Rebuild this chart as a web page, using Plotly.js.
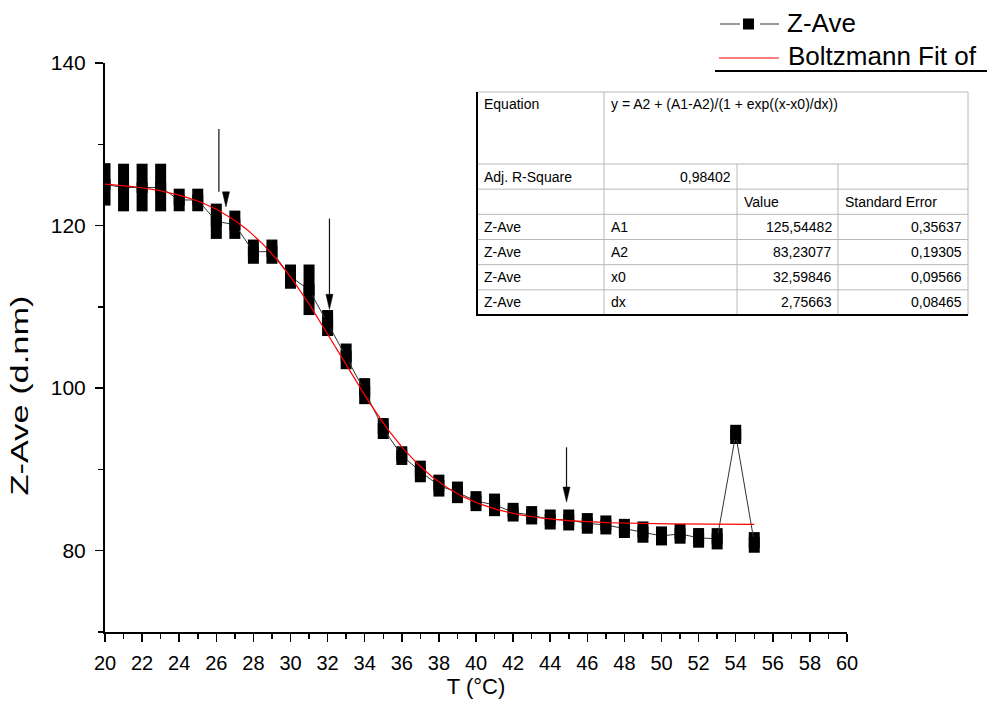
<!DOCTYPE html>
<html><head><meta charset="utf-8">
<script src="https://cdn.plot.ly/plotly-3.0.1.min.js"></script>
<style>html,body{margin:0;padding:0;background:#fff}#chart{width:987px;height:722px}</style>
</head><body><div id="chart"></div>
<script>
// ---------- data ----------
const temperature = [20,21,22,23,24,25,26,27,28,29,30,31,32,33,34,35,36,37,38,39,40,41,42,43,44,45,46,47,48,49,50,51,52,53,54,55];
const zAve = [125.07,124.68,124.68,124.68,123.15,123.15,120.53,120.10,116.79,116.79,113.72,112.10,108.01,103.91,99.63,95.03,91.70,89.75,88.01,87.18,86.10,85.64,84.74,84.36,83.84,83.78,83.36,83.17,82.74,82.29,81.82,82.07,81.58,81.47,94.31,81.02];
const zSpread = [2.61,2.93,2.93,2.93,1.39,1.39,2.17,1.74,1.49,1.49,1.49,3.11,1.60,1.58,1.60,1.29,1.15,1.33,1.35,1.33,1.23,1.39,1.15,1.13,1.23,1.29,1.27,1.17,1.18,1.31,1.17,1.21,1.21,1.31,1.18,1.27];

// Boltzmann fit parameters (from the table in the chart)
const fitA1 = 125.54482, fitA2 = 83.23077, fitX0 = 32.59846, fitDx = 2.75663;
const fitRange = [20, 55];
const fitEquation = 'y = A2 + (A1-A2)/(1 + exp((x-x0)/dx))';
const adjRSquare = '0,98402';
const paramNames = ['A1','A2','x0','dx'];
const paramValues = ['125,54482','83,23077','32,59846','2,75663'];
const paramErrors = ['0,35637','0,19305','0,09566','0,08465'];
const seriesName = 'Z-Ave';
const fitName = 'Boltzmann Fit of';
const xTitle = 'T (°C)';
const yTitle = 'Z-Ave (d.nm)';

// arrows (temperature of shaft, temperature of head, tail value, tip value)
const arrowShaftT = [26.14, 32.10, 44.88];
const arrowHeadT  = [26.52, 32.10, 44.88];
const arrowTail   = [131.87, 120.86, 92.72];
const arrowTip    = [122.30, 109.69, 85.98];

// ---------- fit curve ----------
const fitX = [], fitY = [];
for (let t = fitRange[0]; t <= fitRange[1] + 1e-9; t += 0.1) {
  fitX.push(t);
  fitY.push(fitA2 + (fitA1 - fitA2) / (1 + Math.exp((t - fitX0) / fitDx)));
}

// ---------- geometry helpers (pixel -> paper) ----------
const L = 105, R = 847, T = 63, B = 632;
const W = R - L, H = B - T;
const px = v => (v - L) / W;
const py = v => (B - v) / H;
const FONT = 'Liberation Sans, Arial, sans-serif';
const NARROW = 'Liberation Sans Narrow, Arial Narrow, Liberation Sans, Arial, sans-serif';

const shapes = [];
const annotations = [];

// arrows
const headLen = 1.85, headHalf = 0.19;
for (let i = 0; i < arrowShaftT.length; i++) {
  const base = arrowTip[i] + headLen;
  shapes.push({type:'line', xref:'x', yref:'y', x0:arrowShaftT[i], x1:arrowShaftT[i], y0:arrowTail[i], y1:base,
    line:{color:'#111', width:1.2}});
  const hx = arrowHeadT[i];
  shapes.push({type:'path', xref:'x', yref:'y',
    path:`M ${hx-headHalf},${base} L ${hx+headHalf},${base} L ${hx},${arrowTip[i]} Z`,
    fillcolor:'#000', line:{color:'#000', width:0.5}});
}

// table
const cols = [477, 604, 737, 838, 968];
const tTop = 92, tEq = 164, tBot = 315;
const rowH = (tBot - tEq) / 6;
const rows = [tEq]; for (let i = 1; i <= 6; i++) rows.push(tEq + i * rowH);
const grey = '#b8b8b8';
function hline(y, x0, x1, c, w){ shapes.push({type:'line', xref:'paper', yref:'paper', x0:px(x0), x1:px(x1), y0:py(y), y1:py(y), line:{color:c, width:w}}); }
function vline(x, y0, y1, c, w){ shapes.push({type:'line', xref:'paper', yref:'paper', x0:px(x), x1:px(x), y0:py(y0), y1:py(y1), line:{color:c, width:w}}); }
hline(tTop, cols[0], cols[4], grey, 1);
rows.slice(0, 6).forEach(y => hline(y, cols[0], cols[4], grey, 1));
vline(cols[1], tTop, tBot, grey, 1);
vline(cols[2], tEq, tBot, grey, 1);
vline(cols[3], tEq, tBot, grey, 1);
vline(cols[4], tTop, tBot, grey, 1);
vline(cols[0], tTop, tBot + 1, '#000', 2);
hline(tBot, cols[0] - 1, cols[4], '#000', 2);

const tfont = {family: FONT, size: 14, color: '#000'};
function cell(text, x, y, anchor, yanchor){
  annotations.push({xref:'paper', yref:'paper', x:px(x), y:py(y), text:text, showarrow:false,
    xanchor:anchor, yanchor:yanchor || 'middle', font:tfont});
}
cell('Equation', cols[0] + 5, tTop + 2, 'left', 'top');
cell(fitEquation, cols[1] + 5, tTop + 2, 'left', 'top');
const rc = i => rows[i] + rowH / 2;
cell('Adj. R-Square', cols[0] + 5, rc(0), 'left');
cell(adjRSquare, cols[2] - 4, rc(0), 'right');
cell('Value', cols[2] + 5, rc(1), 'left');
cell('Standard Error', cols[3] + 5, rc(1), 'left');
for (let i = 0; i < paramNames.length; i++) {
  cell(seriesName, cols[0] + 5, rc(2 + i), 'left');
  cell(paramNames[i], cols[1] + 5, rc(2 + i), 'left');
  cell(paramValues[i], cols[3] - 4, rc(2 + i), 'right');
  cell(paramErrors[i], cols[4] - 4, rc(2 + i), 'right');
}

// manual legend
const lfont = {family: FONT, size: 26, color: '#000'};
hline(24, 720, 740, '#555', 1.2);
hline(24, 760, 779, '#555', 1.2);
shapes.push({type:'rect', xref:'paper', yref:'paper', x0:px(743), x1:px(754), y0:py(18.5), y1:py(29.5), fillcolor:'#000', line:{width:0}});
annotations.push({xref:'paper', yref:'paper', x:px(785), y:py(23), text:seriesName, showarrow:false, xanchor:'left', yanchor:'middle', font:lfont});
hline(58, 719, 779, '#ff0000', 1.2);
annotations.push({xref:'paper', yref:'paper', x:px(786), y:py(56), text:fitName, showarrow:false, xanchor:'left', yanchor:'middle', font:lfont});
hline(71, 715, 987, '#000', 2);

// ---------- traces ----------
const traces = [
  {x: temperature, y: zAve, type:'scatter', mode:'lines+markers', name: seriesName,
   line:{color:'#333', width:1},
   marker:{symbol:'square', size:11, color:'#000', line:{width:0}},
   error_y:{type:'data', array:zSpread, visible:true, thickness:11, width:0, color:'#000'}},
  {x: fitX, y: fitY, type:'scatter', mode:'lines', name: fitName,
   line:{color:'#ff0000', width:1.2}}
];

const axisCommon = {showgrid:false, zeroline:false, showline:true, linecolor:'#000', linewidth:2,
  ticks:'outside', tickcolor:'#000', tickwidth:1.5, ticklen:8};

const layout = {
  width: 987, height: 722,
  margin: {l: L, r: 987 - R, t: T, b: 722 - B},
  paper_bgcolor:'#fff', plot_bgcolor:'#fff',
  showlegend: false,
  font: {family: FONT, color:'#000'},
  xaxis: Object.assign({}, axisCommon, {
    range:[20, 60], tick0:20, dtick:2, ticklabelstandoff: 4,
    tickfont:{family: NARROW, size: 20, color:'#000'},
    minor:{dtick:1, ticks:'outside', ticklen:5, tickwidth:1.5, tickcolor:'#000'},
    title:{text: xTitle, font:{family: FONT, size: 22, color:'#000'}, standoff: 0}
  }),
  yaxis: Object.assign({}, axisCommon, {
    range:[70, 140], tick0:0, dtick:20, ticklabelstandoff: 5,
    tickfont:{family: FONT, size: 21, color:'#000'},
    minor:{dtick:10, ticks:'outside', ticklen:5, tickwidth:1.5, tickcolor:'#000'},
    title:{text: yTitle, font:{family: FONT, size: 23, color:'#000'}, standoff: 16}
  }),
  shapes: shapes,
  annotations: annotations
};

Plotly.newPlot('chart', traces, layout, {displayModeBar:false, staticPlot:true}).then(gd => {
  // the y title in the reference is drawn elongated along its baseline and sits lower
  const t = gd.querySelector('.g-ytitle text');
  if (t) {
    t.setAttribute('textLength', '200');
    t.setAttribute('lengthAdjust', 'spacingAndGlyphs');
    t.setAttribute('transform', 'translate(0,48) ' + (t.getAttribute('transform') || ''));
  }
});
</script>
</body></html>
